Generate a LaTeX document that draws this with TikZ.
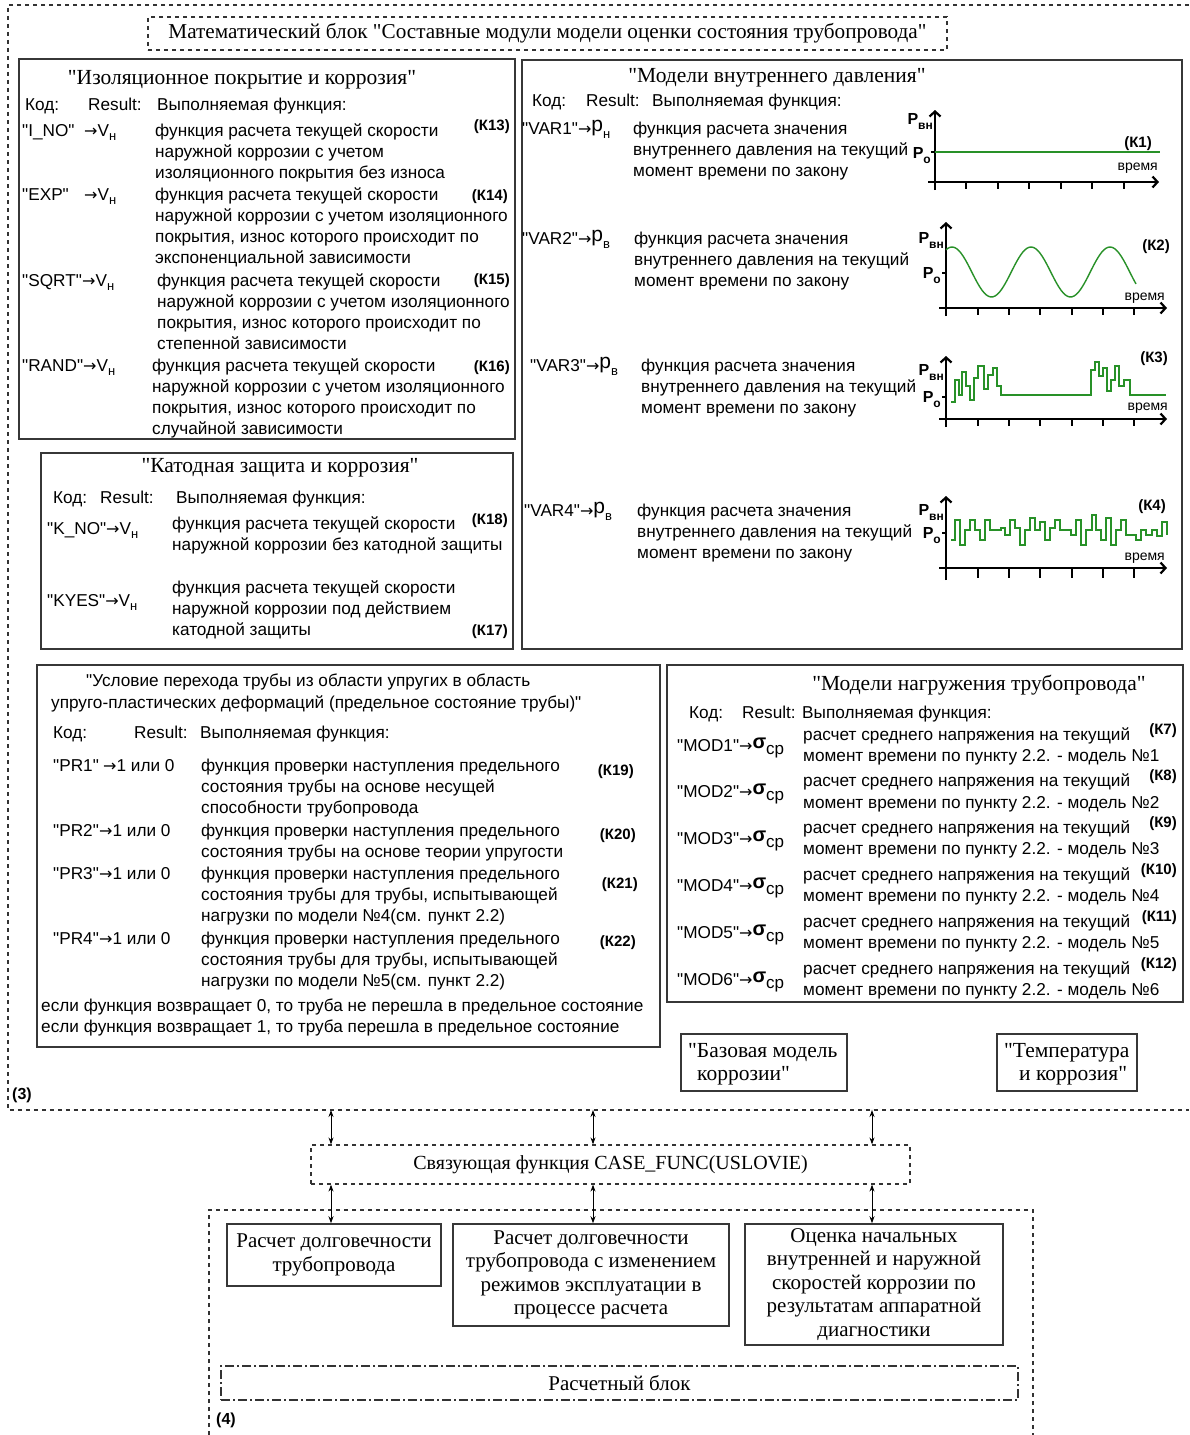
\documentclass[tikz,border=0pt]{standalone}
\usepackage{fontspec}
\setmainfont{Liberation Serif}
\newfontfamily\serf{Liberation Serif}
\newfontfamily\sansf{Liberation Sans}
\newfontfamily\arrf{DejaVu Sans}
\usetikzlibrary{arrows.meta}
\definecolor{sigc}{RGB}{40,145,40}
\definecolor{boxc}{RGB}{55,55,55}
\newcommand\bodyf{\sansf\fontsize{17.2}{21.3}\selectfont}
\newcommand\ttlf{\serf\fontsize{21.5}{24}\selectfont}
\newcommand\botf{\serf\fontsize{21}{23.5}\selectfont}
\newcommand\kf{\sansf\bfseries\fontsize{15}{18}\selectfont}
\newcommand\myarr{{\arrf\fontsize{16}{16}\selectfont →}}
\newcommand\mysub[1]{\raisebox{-4pt}{\fontsize{13}{13}\selectfont #1}}
\newcommand\vh{V\mysub{н}}
\newcommand\pbig[1]{\raisebox{3pt}{\fontsize{21}{21}\selectfont р}\mysub{#1}}
\newcommand\sgm{\raisebox{3pt}{\bfseries\fontsize{20}{20}\selectfont σ}\raisebox{-3pt}{\fontsize{17}{17}\selectfont ср}}
\newcommand\gP[1]{{\sansf\bfseries\fontsize{16}{16}\selectfont P\raisebox{-5pt}{\fontsize{12}{12}\selectfont #1}}}
\newcommand\vremya{{\sansf\fontsize{14}{14}\selectfont время}}
\newcommand\mline[1]{\begin{tabular}[t]{@{}l@{}}#1\end{tabular}}
\begin{document}
\begin{tikzpicture}[x=1pt,y=-1pt,
  tx/.style={inner sep=0pt, anchor=base west, font=\bodyf},
  ttl/.style={inner sep=0pt, anchor=base, font=\ttlf},
  kk/.style={inner sep=0pt, anchor=base east, font=\kf},
  solidbox/.style={draw=boxc, line width=1.5pt, inner sep=0pt, anchor=north west},
  dashframe/.style={draw=black!80, line width=1.2pt, dash pattern=on 4pt off 4pt},
  dashdotbox/.style={draw=black!80, line width=1.4pt, dash pattern=on 9pt off 3pt on 2pt off 3pt},
  botbox/.style={draw=boxc, line width=1.5pt, inner sep=2pt, align=center, font=\botf},
  axisl/.style={line width=2.2pt, -{Straight Barb[length=5pt,width=11pt]}},
  tick/.style={line width=1.8pt},
  sig/.style={draw=sigc, line width=1.4pt},
  dbl/.style={line width=0.9pt, {Stealth[length=7pt,width=5pt]}-{Stealth[length=7pt,width=5pt]}},
  glbl/.style={inner sep=0pt, anchor=base east}
]
\fill[white] (0,0) rectangle (1189,1435);
\useasboundingbox (0,0) rectangle (1189,1435);

% ---------- outer frame (3)
\draw[dashframe] (1189,5) -- (8,5) -- (8,1110) -- (1189,1110);
\node[inner sep=0pt, anchor=base west, font=\sansf\bfseries\fontsize{16}{16}\selectfont] (lbl3) at (12,1099) {(3)};

% ---------- main title
\node[draw=black!80, line width=1.2pt, dash pattern=on 4pt off 4pt, minimum width=799pt, minimum height=33pt, inner sep=0pt, font=\serf\fontsize{21.2}{24}\selectfont] (title) at (547.5,33.5) {Математический блок "Составные модули модели оценки состояния трубопровода"};

% ---------- box 1
\node[solidbox, minimum width=496pt, minimum height=380pt] (b1) at (18,58) {};
\node[ttl] (b1t) at (242,84) {"Изоляционное покрытие и коррозия"};
\node[tx] (b1h1) at (25,110) {Код:};
\node[tx] (b1h2) at (88,110) {Result:};
\node[tx] (b1h3) at (157,110) {Выполняемая функция:};
\node[tx] (b1c1) at (22,136) {"I\_NO"};
\node[tx] (b1a1) at (84,136) {\myarr\vh};
\node[tx] (b1d1) at (155,136) {\mline{функция расчета текущей скорости\\наружной коррозии с учетом\\изоляционного покрытия без износа}};
\node[kk] (b1k1) at (510,130) {(К13)};
\node[tx] (b1c2) at (22,200) {"EXP"};
\node[tx] (b1a2) at (84,200) {\myarr\vh};
\node[tx] (b1d2) at (155,200) {\mline{функция расчета текущей скорости\\наружной коррозии с учетом изоляционного\\покрытия, износ которого происходит по\\экспоненциальной зависимости}};
\node[kk] (b1k2) at (508,200) {(К14)};
\node[tx] (b1c3) at (22,286) {"SQRT"};
\node[tx] (b1a3) at (82,286) {\myarr\vh};
\node[tx] (b1d3) at (157,286) {\mline{функция расчета текущей скорости\\наружной коррозии с учетом изоляционного\\покрытия, износ которого происходит по\\степенной зависимости}};
\node[kk] (b1k3) at (510,284) {(К15)};
\node[tx] (b1c4) at (22,371) {"RAND"\myarr\vh};
\node[tx] (b1d4) at (152,371) {\mline{функция расчета текущей скорости\\наружной коррозии с учетом изоляционного\\покрытия, износ которого происходит по\\случайной зависимости}};
\node[kk] (b1k4) at (510,371) {(К16)};

% ---------- box 2
\node[solidbox, minimum width=660pt, minimum height=589pt] (b2) at (521,59) {};
\node[ttl] (b2t) at (777,82) {"Модели внутреннего давления"};
\node[tx] (b2h1) at (532,106) {Код:};
\node[tx] (b2h2) at (586,106) {Result:};
\node[tx] (b2h3) at (652,106) {Выполняемая функция:};
\node[tx] (b2c1) at (522,134) {"VAR1"\myarr\pbig{н}};
\node[tx] (b2d1) at (633,134) {\mline{функция расчета значения\\внутреннего давления на текущий\\момент времени по закону}};
\node[tx] (b2c2) at (522,244) {"VAR2"\myarr\pbig{в}};
\node[tx] (b2d2) at (634,244) {\mline{функция расчета значения\\внутреннего давления на текущий\\момент времени по закону}};
\node[tx] (b2c3) at (530,371) {"VAR3"\myarr\pbig{в}};
\node[tx] (b2d3) at (641,371) {\mline{функция расчета значения\\внутреннего давления на текущий\\момент времени по закону}};
\node[tx] (b2c4) at (524,516) {"VAR4"\myarr\pbig{в}};
\node[tx] (b2d4) at (637,516) {\mline{функция расчета значения\\внутреннего давления на текущий\\момент времени по закону}};

% graph 1
\draw[axisl] (935,190) -- (935,110);
\draw[axisl] (928,182) -- (1159,182);
\foreach \t in {966,998,1029,1061,1092,1124} \draw[tick] (\t,182) -- (\t,189);
\draw[sig] (935,152) -- (1160,152);
\draw[tick] (931,152) -- (935,152);
\node[glbl] (g1p) at (933,124) {\gP{вн}};
\node[glbl] (g1o) at (931,158) {\gP{о}};
\node[kk] (g1k) at (1152,147) {(К1)};
\node[glbl] (g1v) at (1158,170) {\vremya};

% graph 2
\draw[axisl] (946,316) -- (946,222);
\draw[axisl] (939,308) -- (1167,308);
\foreach \t in {978,1009,1040,1072,1103,1134} \draw[tick] (\t,308) -- (\t,315);
\draw[sig, smooth] plot[domain=946:1136, samples=90] (\x, {272 - 25*cos(4.557*(\x-952))});
\draw[tick] (942,273) -- (946,273);
\node[glbl] (g2p) at (944,243) {\gP{вн}};
\node[glbl] (g2o) at (941,278) {\gP{о}};
\node[kk] (g2k) at (1170,250) {(К2)};
\node[glbl] (g2v) at (1165,300) {\vremya};

% graph 3
\draw[axisl] (946,427) -- (946,356);
\draw[axisl] (939,419) -- (1167,419);
\foreach \t in {978,1009,1040,1072,1103,1134} \draw[tick] (\t,419) -- (\t,426);
\draw[sig] plot[const plot] coordinates {(951,402) (955,380) (959,395) (962,372) (966,386) (970,400) (974,378) (978,366) (984,389) (988,375) (993,368) (997,386) (1001,395) (1091,370) (1095,362) (1099,376) (1103,368) (1107,391) (1111,380) (1115,366) (1119,386) (1124,380) (1130,395) (1166,395)};
\draw[tick] (942,397) -- (946,397);
\node[glbl] (g3p) at (944,375) {\gP{вн}};
\node[glbl] (g3o) at (941,402) {\gP{о}};
\node[kk] (g3k) at (1168,362) {(К3)};
\node[glbl] (g3v) at (1168,410) {\vremya};

% graph 4
\draw[axisl] (946,580) -- (946,496);
\draw[axisl] (939,568) -- (1167,568);
\foreach \t in {978,1009,1040,1072,1103,1134} \draw[tick] (\t,568) -- (\t,578);
\draw[sig] plot[const plot] coordinates {(951,540) (955,520) (960,545) (965,530) (970,520) (975,530) (980,540) (985,520) (990,530) (1001,528) (1005,535) (1010,520) (1015,528) (1020,545) (1025,530) (1030,518) (1035,530) (1040,522) (1045,540) (1050,528) (1055,520) (1060,530) (1071,535) (1076,520) (1081,545) (1086,530) (1092,515) (1096,530) (1101,540) (1106,518) (1111,545) (1116,530) (1121,520) (1126,535) (1136,540) (1141,530) (1146,535) (1152,530) (1157,536) (1162,522) (1167,535)};
\draw[tick] (942,533) -- (946,533);
\node[glbl] (g4p) at (944,515) {\gP{вн}};
\node[glbl] (g4o) at (941,538) {\gP{о}};
\node[kk] (g4k) at (1166,510) {(К4)};
\node[glbl] (g4v) at (1165,560) {\vremya};

% ---------- box 3
\node[solidbox, minimum width=472pt, minimum height=196pt] (b3) at (40,452) {};
\node[ttl] (b3t) at (280,472) {"Катодная защита и коррозия"};
\node[tx] (b3h1) at (53,503) {Код:};
\node[tx] (b3h2) at (100,503) {Result:};
\node[tx] (b3h3) at (176,503) {Выполняемая функция:};
\node[tx] (b3c1) at (47,534) {"K\_NO"\myarr\vh};
\node[tx] (b3d1) at (172,529) {\mline{функция расчета текущей скорости\\наружной коррозии без катодной защиты}};
\node[kk] (b3k1) at (508,524) {(К18)};
\node[tx] (b3c2) at (47,606) {"KYES"\myarr\vh};
\node[tx] (b3d2) at (172,593) {\mline{функция расчета текущей скорости\\наружной коррозии под действием\\катодной защиты}};
\node[kk] (b3k2) at (508,635) {(К17)};

% ---------- box 4
\node[solidbox, minimum width=623pt, minimum height=382pt] (b4) at (36,664) {};
\node[tx] (b4t1) at (86,686) {"Условие перехода трубы из области упругих в область};
\node[tx] (b4t2) at (51,708) {упруго-пластических деформаций (предельное состояние трубы)"};
\node[tx] (b4h1) at (53,738) {Код:};
\node[tx] (b4h2) at (134,738) {Result:};
\node[tx] (b4h3) at (200,738) {Выполняемая функция:};
\node[tx] (b4c1) at (53,771) {"PR1"};
\node[tx] (b4a1) at (103,771) {\myarr1 или 0};
\node[tx] (b4d1) at (201,771) {\mline{функция проверки наступления предельного\\состояния трубы на основе несущей\\способности трубопровода}};
\node[kk] (b4k1) at (634,775) {(К19)};
\node[tx] (b4c2) at (53,836) {"PR2"};
\node[tx] (b4a2) at (99,836) {\myarr1 или 0};
\node[tx] (b4d2) at (201,836) {\mline{функция проверки наступления предельного\\состояния трубы на основе теории упругости}};
\node[kk] (b4k2) at (636,839) {(К20)};
\node[tx] (b4c3) at (53,879) {"PR3"};
\node[tx] (b4a3) at (99,879) {\myarr1 или 0};
\node[tx] (b4d3) at (201,879) {\mline{функция проверки наступления предельного\\состояния трубы для трубы, испытывающей\\нагрузки по модели №4(см. пункт 2.2)}};
\node[kk] (b4k3) at (638,888) {(К21)};
\node[tx] (b4c4) at (53,944) {"PR4"};
\node[tx] (b4a4) at (99,944) {\myarr1 или 0};
\node[tx] (b4d4) at (201,944) {\mline{функция проверки наступления предельного\\состояния трубы для трубы, испытывающей\\нагрузки по модели №5(см. пункт 2.2)}};
\node[kk] (b4k4) at (636,946) {(К22)};
\node[tx] (b4f) at (41,1011) {\mline{если функция возвращает 0, то труба не перешла в предельное состояние\\если функция возвращает 1, то труба перешла в предельное состояние}};

% ---------- box 5
\node[solidbox, minimum width=516pt, minimum height=337pt] (b5) at (666,664) {};
\node[ttl] (b5t) at (979,690) {"Модели нагружения трубопровода"};
\node[tx] (b5h1) at (689,718) {Код:};
\node[tx] (b5h2) at (742,718) {Result:};
\node[tx] (b5h3) at (802,718) {Выполняемая функция:};
\foreach \i/\k in {1/7,2/8,3/9,4/10,5/11,6/12} {
  \node[tx] (m\i c) at (677,{751+46.8*(\i-1)}) {"MOD\i"\myarr\sgm};
  \node[tx] (m\i d) at (803,{740+46.8*(\i-1)}) {\mline{расчет среднего напряжения на текущий\\момент времени по пункту 2.2. - модель №\i}};
  \node[kk] (m\i k) at (1177,{734+46.8*(\i-1)}) {(К\k)};
}

% ---------- small boxes
\node[solidbox, minimum width=166pt, minimum height=57pt] (base) at (680,1033) {};
\node[inner sep=0pt, anchor=base west, font=\ttlf] (base1) at (688,1057) {"Базовая модель};
\node[inner sep=0pt, anchor=base west, font=\ttlf] (base2) at (697,1080) {коррозии"};
\node[solidbox, minimum width=140pt, minimum height=57pt] (temp) at (996,1033) {};
\node[inner sep=0pt, anchor=base west, font=\ttlf] (temp1) at (1004,1057) {"Температура};
\node[inner sep=0pt, anchor=base west, font=\ttlf] (temp2) at (1019,1080) {и коррозия"};

% ---------- linking function
\node[draw=black!80, line width=1.2pt, dash pattern=on 4pt off 4pt, minimum width=599pt, minimum height=39pt, inner sep=0pt, font=\serf\fontsize{20}{24}\selectfont] (link) at (610.5,1164.5) {Связующая функция CASE\_FUNC(USLOVIE)};

% ---------- calc block (4)
\draw[dashframe] (209,1435) -- (209,1210) -- (1033,1210) -- (1033,1435);
\node[botbox, minimum width=214pt, minimum height=62pt] (bA) at (334,1255) {Расчет долговечности\\трубопровода};
\node[botbox, minimum width=276pt, minimum height=102pt] (bB) at (591,1275) {Расчет долговечности\\трубопровода с изменением\\режимов эксплуатации в\\процессе расчета};
\node[botbox, minimum width=258pt, minimum height=121pt] (bC) at (874,1284.5) {Оценка начальных\\внутренней и наружной\\скоростей коррозии по\\результатам аппаратной\\диагностики};
\node[dashdotbox, minimum width=797pt, minimum height=34pt, inner sep=0pt, font=\botf] (calc) at (619.5,1383) {Расчетный блок};
\node[inner sep=0pt, anchor=base west, font=\sansf\bfseries\fontsize{16}{16}\selectfont] (lbl4) at (216,1424) {(4)};

% ---------- connectors
\coordinate (fa) at (331,1110);
\coordinate (fb) at (593,1110);
\coordinate (fc) at (872,1110);
\draw[dbl] (fa) -- (fa |- link.north);
\draw[dbl] (fb) -- (fb |- link.north);
\draw[dbl] (fc) -- (fc |- link.north);
\draw[dbl] (fa |- link.south) -- (fa |- bA.north);
\draw[dbl] (fb |- link.south) -- (fb |- bB.north);
\draw[dbl] (fc |- link.south) -- (fc |- bC.north);
\end{tikzpicture}
\end{document}
